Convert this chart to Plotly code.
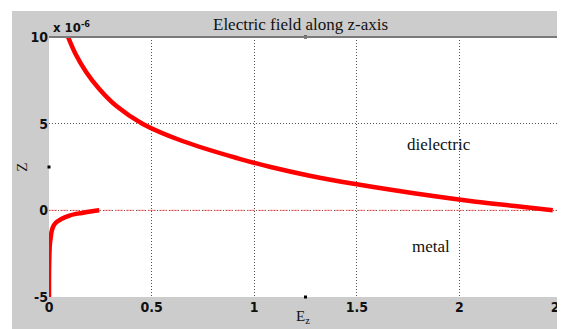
import plotly.graph_objects as go

# Dielectric region (z >= 0), z in units of 1e-6
z_diel = [0, 0.25, 0.5, 1, 1.5, 2, 2.5, 3, 4, 5, 6, 7, 8, 9, 10]
E_diel = [2.455, 2.27, 2.08, 1.77, 1.5, 1.27, 1.08, 0.92, 0.65, 0.455, 0.33, 0.245, 0.18, 0.13, 0.093]

# Metal region (z <= 0)
z_metal = [-5, -4, -3, -2, -1.6, -1.2, -0.9, -0.7, -0.5, -0.3, -0.15, -0.05, 0]
E_metal = [0.0, 0.0, 0.001, 0.004, 0.008, 0.013, 0.022, 0.035, 0.06, 0.1, 0.16, 0.21, 0.245]

x_ticks = [0, 0.5, 1, 1.5, 2, 2.5]
x_ticklabels = ["0", "0.5", "1", "1.5", "2", "2.5"]
y_ticks = [-5, 0, 5, 10]
y_ticklabels = ["-5", "0", "5", "10"]

fig = go.Figure()

# red dashed line at z = 0
fig.add_trace(go.Scatter(x=[0, 2.5], y=[0, 0], mode="lines",
                         line=dict(color="rgba(255,90,90,0.75)", width=1, dash="8px,3px"),
                         showlegend=False, hoverinfo="skip"))

fig.add_trace(go.Scatter(x=E_diel, y=z_diel, mode="lines",
                         line=dict(color="#ff0000", width=4.5, shape="spline"),
                         showlegend=False))
fig.add_trace(go.Scatter(x=E_metal, y=z_metal, mode="lines",
                         line=dict(color="#ff0000", width=4.5, shape="spline"),
                         showlegend=False))

# small black square tick markers
fig.add_trace(go.Scatter(x=[1.25, 1.25, 0, 2.5], y=[-5, 10, 2.5, 2.5], mode="markers",
                         marker=dict(color="black", size=3, symbol="square"),
                         cliponaxis=False, showlegend=False, hoverinfo="skip"))

tickfont = dict(family="Liberation Sans Narrow, DejaVu Sans Condensed, Arial Narrow, sans-serif",
                size=14, color="#111111", weight="bold")

fig.update_xaxes(range=[0, 2.5], tickvals=x_ticks, ticktext=x_ticklabels,
                 showgrid=True, gridcolor="#555555", griddash="1px,2px", gridwidth=1,
                 zeroline=False, showline=False, ticks="", tickfont=tickfont,
                 ticklabeloverflow="allow", automargin=False)
fig.update_yaxes(range=[-5, 10], tickvals=y_ticks, ticktext=y_ticklabels,
                 showgrid=True, gridcolor="#555555", griddash="1px,2px", gridwidth=1,
                 zeroline=False, showline=False, ticks="", tickfont=tickfont,
                 ticklabeloverflow="allow", automargin=False)

serif = "Liberation Serif, DejaVu Serif, serif"

# page body has an 8px margin; figure sized so the plot lands where the reference has it
fig.update_layout(
    width=557, height=321,
    margin=dict(l=41, r=3, t=29, b=32),
    paper_bgcolor="#cccccc",
    plot_bgcolor="white",
    shapes=[
        # white strips top and left
        dict(type="rect", xref="paper", yref="paper", x0=-0.2, x1=1.2, y0=1.1, y1=1.3,
             fillcolor="white", line=dict(width=0), layer="above"),
        dict(type="rect", xref="paper", yref="paper", x0=-0.2, x1=-0.0721, y0=-0.3, y1=1.3,
             fillcolor="white", line=dict(width=0), layer="above"),
        # top and right border lines
        dict(type="line", xref="paper", yref="paper", x0=0, x1=1, y0=1, y1=1,
             line=dict(color="#7a7a7a", width=2)),
        dict(type="line", xref="paper", yref="paper", x0=1, x1=1, y0=0, y1=1,
             line=dict(color="#7a7a7a", width=2)),
    ],
    annotations=[
        dict(text="Electric field along z-axis", xref="paper", yref="paper",
             x=0.49, y=1.047, xanchor="center", yanchor="middle", showarrow=False,
             font=dict(family=serif, size=17, color="#111111")),
        dict(text="x 10<sup>-6</sup>", xref="paper", yref="paper",
             x=0.003, y=1.0, xanchor="left", yanchor="bottom", showarrow=False,
             font=dict(family=tickfont["family"], size=13, color="#111111", weight="bold")),
        dict(text="Z", xref="paper", yref="paper", x=-0.053, y=0.5, textangle=-90,
             xanchor="center", yanchor="middle", showarrow=False,
             font=dict(family=serif, size=15, color="#111111")),
        dict(text="E<sub>z</sub>", xref="paper", yref="paper", x=0.495, y=-0.035,
             xanchor="center", yanchor="top", showarrow=False,
             font=dict(family=serif, size=15, color="#111111")),
        dict(text="dielectric", x=1.9, y=3.8, xanchor="center", yanchor="middle",
             showarrow=False, font=dict(family=serif, size=17, color="#111111")),
        dict(text="metal", x=1.86, y=-2.1, xanchor="center", yanchor="middle",
             showarrow=False, font=dict(family=serif, size=17, color="#111111")),
    ],
)

fig.write_html("out.html")
